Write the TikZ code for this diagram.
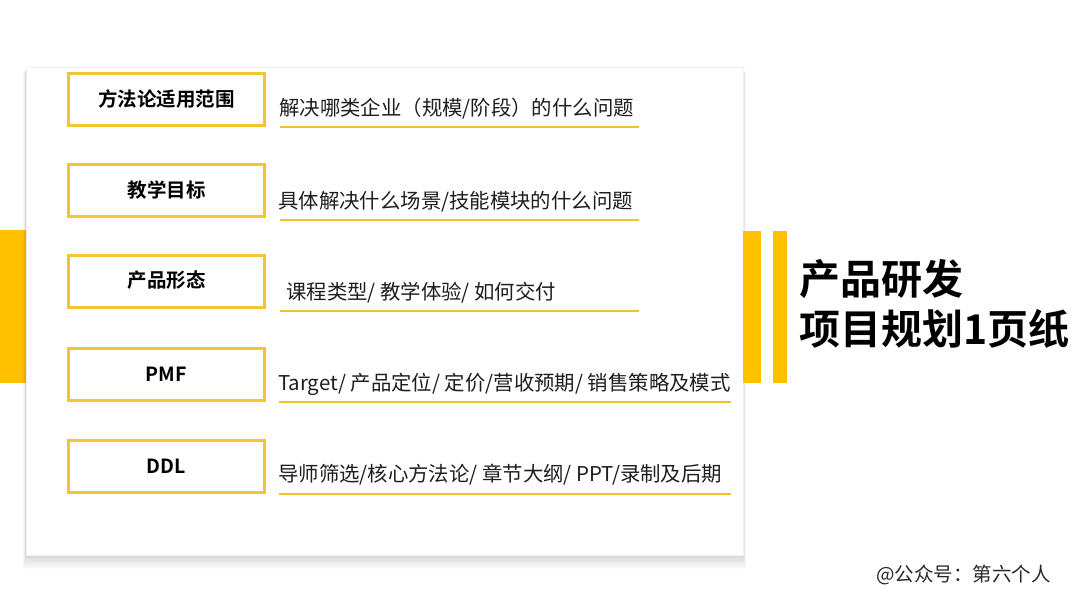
\documentclass[tikz,border=0pt]{standalone}
\usepackage{fontspec}
\setmainfont{Noto Sans CJK SC}[BoldFont={Noto Sans CJK SC Bold}]
\begin{document}
\begin{tikzpicture}[x=1pt,y=-1pt,
  gold/.style={fill={rgb,255:red,255;green,192;blue,0}},
  boxline/.style={draw={rgb,255:red,242;green,197;blue,50}, line width=3pt},
  ulinestyle/.style={draw={rgb,255:red,240;green,196;blue,40}, line width=2.6pt},
  label/.style={font=\bfseries\fontsize{19.5}{19.5}\selectfont, text=black},
  desc/.style={font=\fontsize{20.4}{20.4}\selectfont, text={rgb,255:red,30;green,30;blue,30}, anchor=west, inner sep=0pt},
  lbox/.style={boxline, minimum width=196pt, minimum height=52pt, inner sep=0pt, fill=white}]
\useasboundingbox (0,0) rectangle (1080,607);
\fill[white] (0,0) rectangle (1080,607);
% left bar (behind card)
\fill[gold] (0,230) rectangle (27,383);
% card shadow
\foreach \i in {1,...,10}{
  \fill[black, opacity=0.014] (26-0.3*\i,67+0.6*\i) rectangle (743+0.3*\i,555+1.4*\i);
}
\fill[white] (26,67) rectangle (743,555);
\draw[black!6, line width=0.8pt] (26,67) rectangle (743,555);
% right bars
\fill[gold] (743,231) rectangle (761,383);
\fill[gold] (773,231) rectangle (787,383);
% boxes
\node[lbox] (b1) at (166.5,100) {};
\node[label] at (166.5,99.5) {方法论适用范围};
\node[lbox] (b2) at (166.5,191) {};
\node[label] at (166.5,190.5) {教学目标};
\node[lbox] (b3) at (166.5,281) {};
\node[label] at (166.5,280.5) {产品形态};
\node[lbox] (b4) at (166.5,374.5) {};
\node[label] at (166.5,374.5) {PMF};
\node[lbox] (b5) at (166.5,466.5) {};
\node[label] at (166.5,466.5) {DDL};
% descriptions
\node[desc] (t1) at (279,109) {解决哪类企业（规模/阶段）的什么问题};
\node[desc] (t2) at (278,202) {具体解决什么场景/技能模块的什么问题};
\node[desc] (t3) at (286,293) {课程类型/ 教学体验/ 如何交付};
\node[desc] (t4) at (278,384) {Target/ 产品定位/ 定价/营收预期/ 销售策略及模式};
\node[desc] (t5) at (278,475) {导师筛选/核心方法论/ 章节大纲/ PPT/录制及后期};
% underlines
\coordinate (u1a) at (280,127); \coordinate (u1b) at (639,127);
\coordinate (u2a) at (280,220); \coordinate (u2b) at (639,220);
\coordinate (u3a) at (280,311); \coordinate (u3b) at (639,311);
\coordinate (u4a) at (279,402); \coordinate (u4b) at (731,402);
\coordinate (u5a) at (279,494); \coordinate (u5b) at (731,494);
\draw[ulinestyle] (u1a) -- (u1b);
\draw[ulinestyle] (u2a) -- (u2b);
\draw[ulinestyle] (u3a) -- (u3b);
\draw[ulinestyle] (u4a) -- (u4b);
\draw[ulinestyle] (u5a) -- (u5b);
% title
\node[anchor=west, inner sep=0pt, font=\bfseries\fontsize{41}{41}\selectfont] (title1) at (799,279) {产品研发};
\node[anchor=west, inner sep=0pt, font=\bfseries\fontsize{41}{41}\selectfont] (title2) at (799,329) {项目规划1页纸};
% watermark
\node[anchor=west, inner sep=0pt, font=\fontsize{19.5}{19.5}\selectfont, text={rgb,255:red,40;green,40;blue,40}] (wm) at (876,575) {@公众号：第六个人};
\end{tikzpicture}
\end{document}
